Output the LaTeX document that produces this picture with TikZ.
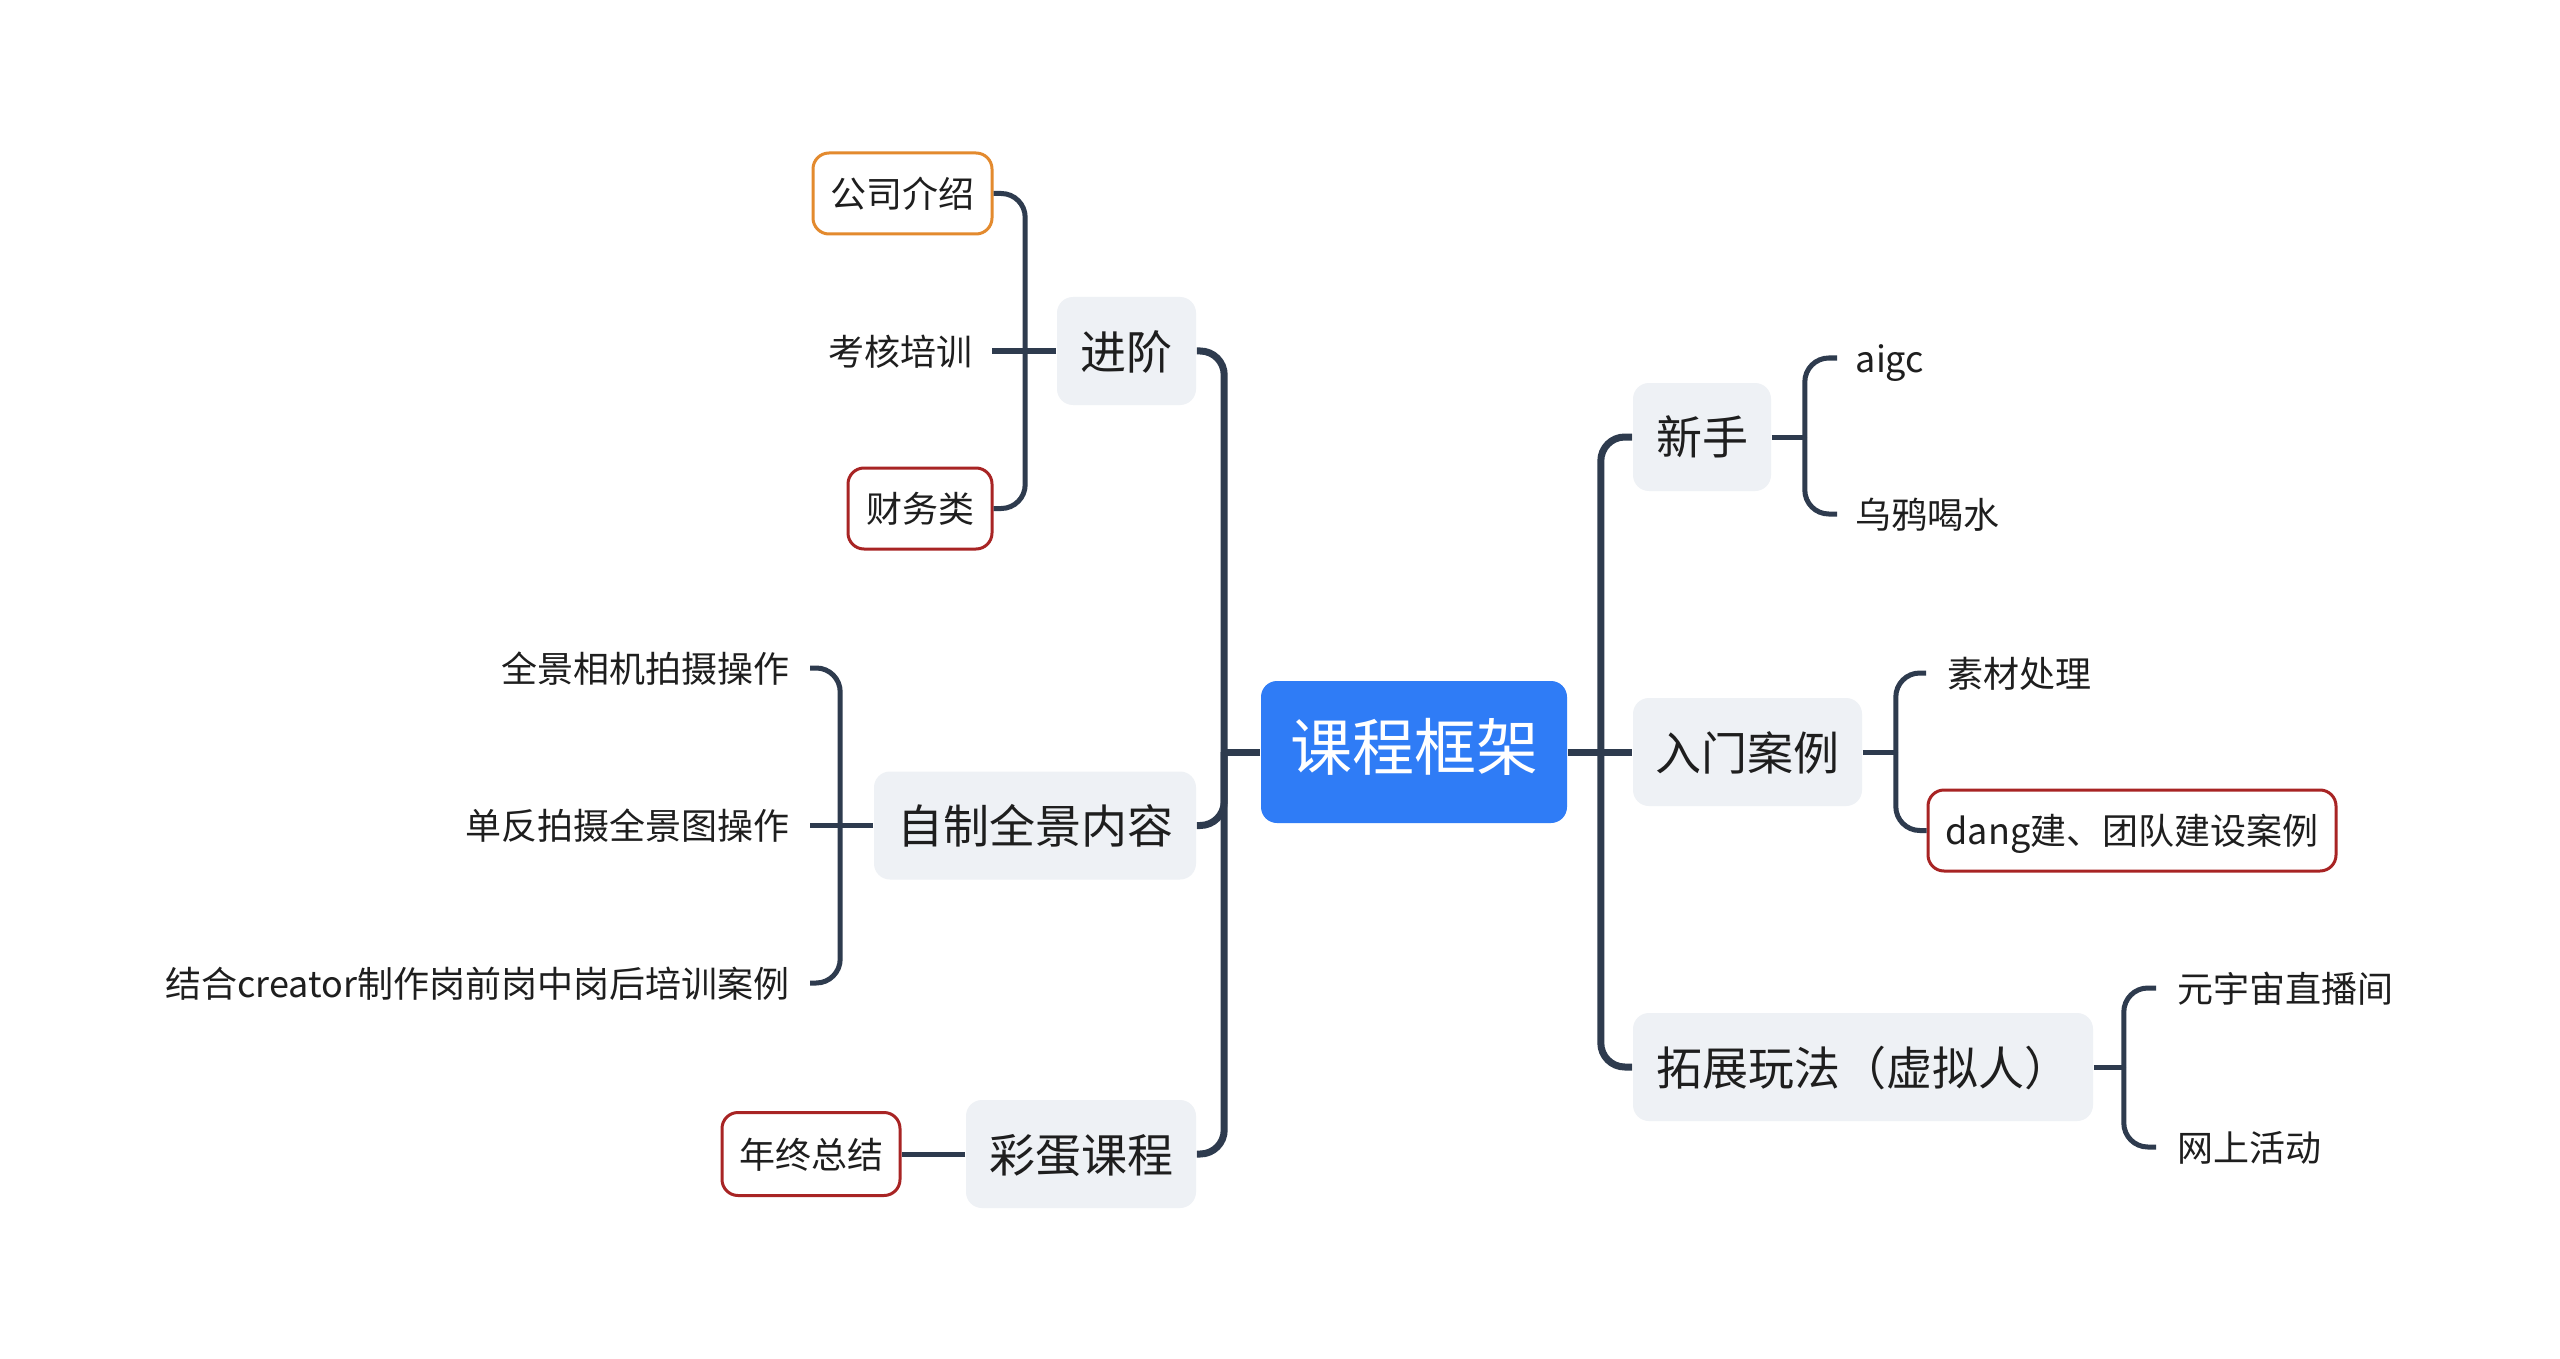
\documentclass[tikz,border=0pt]{standalone}
\usepackage{fontspec}
\setmainfont{Noto Sans CJK SC}
\usetikzlibrary{calc}
\definecolor{linec}{HTML}{2E3B4E}
\definecolor{mainf}{HTML}{EEF1F5}
\definecolor{rootf}{HTML}{2F7CF6}
\definecolor{orangeb}{HTML}{E38A2E}
\definecolor{redb}{HTML}{A82424}
\definecolor{txt}{HTML}{1E1E1E}
\begin{document}
\begin{tikzpicture}[x=0.25pt,y=-0.25pt,
  every node/.style={text=txt, text height=0.8em, text depth=0.08em},
  rootbox/.style={fill=rootf, text=white, rounded corners=4pt, minimum height=35.5pt, inner sep=0pt, font=\fontsize{15.5}{18}\selectfont, text height=0.92em, text depth=0em},
  topic/.style={fill=mainf, rounded corners=4pt, minimum height=27pt, inner sep=0pt, font=\fontsize{11.5}{14}\selectfont, text height=0.9em, text depth=0em},
  leafbox/.style={draw=#1, line width=0.75pt, fill=white, rounded corners=4pt, minimum height=20.25pt, inner sep=0pt, font=\fontsize{9}{11}\selectfont},
  leaf/.style={inner ysep=0pt, inner xsep=#1, font=\fontsize{9}{11}\selectfont},
  mainline/.style={draw=linec, line width=1.75pt, rounded corners=6pt},
  subline/.style={draw=linec, line width=1.25pt, rounded corners=6pt},
]
\useasboundingbox[fill=white] (0,0) rectangle (2560,1359);

% root
\node[rootbox, minimum width=76.5pt] (root) at (1414,752) {课程框架};

% right topics
\node[topic, minimum width=34.5pt] (xs) at (1702,437) {新手};
\node[topic, minimum width=57.25pt] (rm) at (1747.5,752) {入门案例};
\node[topic, minimum width=115pt] (tz) at (1863,1067) {拓展玩法（虚拟人）};

% left topics
\node[topic, minimum width=34.75pt] (jj) at (1126.5,351) {进阶};
\node[topic, minimum width=80.5pt] (zz) at (1035,825.5) {自制全景内容};
\node[topic, minimum width=57.5pt] (cd) at (1081,1154) {彩蛋课程};

% right leaves
\node[leaf=4.5pt, anchor=west] (aigc) at (1837,358) {aigc};
\node[leaf=4.5pt, anchor=west] (wy) at (1837,514) {乌鸦喝水};
\node[leaf=5.25pt, anchor=west] (sc) at (1926,673) {素材处理};
\node[leafbox=redb, minimum width=102pt] (dj) at (2132,830.5) {dang建、团队建设案例};
\node[leaf=5.25pt, anchor=west] (yz) at (2156,988) {元宇宙直播间};
\node[leaf=5.25pt, anchor=west] (ws) at (2156,1147) {网上活动};

% left leaves
\node[leafbox=orangeb, minimum width=44.75pt] (gs) at (902.5,193.5) {公司介绍};
\node[leaf=4.75pt, anchor=east] (kh) at (992,351) {考核培训};
\node[leafbox=redb, minimum width=36pt] (cw) at (920,508.5) {财务类};
\node[leaf=5pt, anchor=east] (qj) at (810,668) {全景相机拍摄操作};
\node[leaf=5pt, anchor=east] (df) at (810,825.5) {单反拍摄全景图操作};
\node[leaf=5pt, anchor=east] (jh) at (810,983) {结合creator制作岗前岗中岗后培训案例};
\node[leafbox=redb, minimum width=44.5pt, minimum height=20.75pt] (nz) at (811,1154) {年终总结};

% main connectors right
\draw[mainline] (root.east) -- ++(33,0) coordinate (jr);
\draw[mainline] (jr) |- (xs.west);
\draw[mainline] (jr) -- (rm.west);
\draw[mainline] (jr) |- (tz.west);

% main connectors left
\draw[mainline] (root.west) -- ++(-36,0) coordinate (jl);
\draw[mainline] (jl) |- (jj.east);
\draw[mainline] (jl) |- (zz.east);
\draw[mainline] (jl) |- (cd.east);

% 新手
\draw[subline] (xs.east) -- ++(33,0) coordinate (j1);
\draw[subline] (j1) |- (aigc.west);
\draw[subline] (j1) |- (wy.west);
% 入门案例
\draw[subline] (rm.east) -- ++(33,0) coordinate (j2);
\draw[subline] (j2) |- (sc.west);
\draw[subline] (j2) |- (dj.west);
% 拓展
\draw[subline] (tz.east) -- ++(30,0) coordinate (j3);
\draw[subline] (j3) |- (yz.west);
\draw[subline] (j3) |- (ws.west);
% 进阶
\draw[subline] (jj.west) -- ++(-31,0) coordinate (j4);
\draw[subline] (j4) |- (gs.east);
\draw[subline] (j4) -- (kh.east);
\draw[subline] (j4) |- (cw.east);
% 自制
\draw[subline] (zz.west) -- ++(-33,0) coordinate (j5);
\draw[subline] (j5) |- (qj.east);
\draw[subline] (j5) -- (df.east);
\draw[subline] (j5) |- (jh.east);
% 彩蛋
\draw[subline] (cd.west) -- (nz.east);
\end{tikzpicture}
\end{document}
